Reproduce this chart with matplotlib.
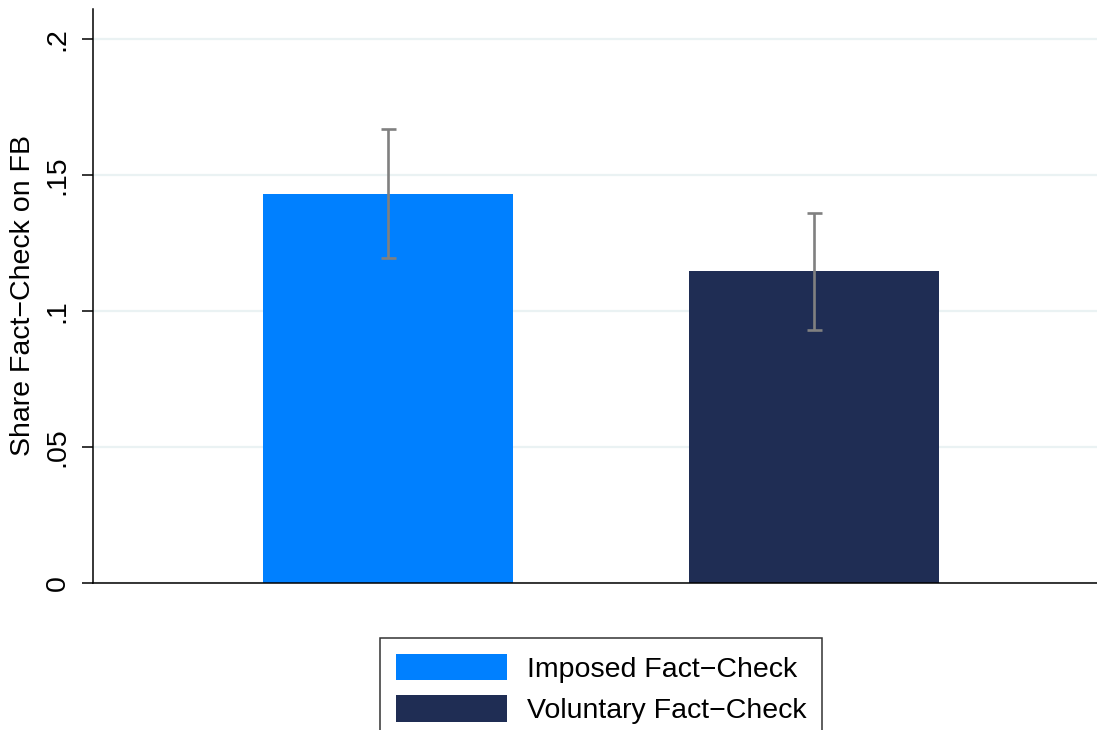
import matplotlib
matplotlib.use('Agg')
from matplotlib import pyplot as plt
from matplotlib.patches import Patch

# values
groups = ['Imposed Fact\u2212Check', 'Voluntary Fact\u2212Check']
shares = [0.1430, 0.1147]
ci_low = [0.1194, 0.0930]
ci_high = [0.1667, 0.1360]
colors = ['#0080ff', '#1f2d54']
yticks = [0, 0.05, 0.1, 0.15, 0.2]
ytick_labels = ['0', '.05', '.1', '.15', '.2']

plt.rcParams['font.family'] = ['Liberation Sans', 'DejaVu Sans']
fs = 20.5

fig = plt.figure(figsize=(10.97, 7.30), dpi=100)
ax = fig.add_axes([0.0848, 0.2014, 0.9152, 0.7863])

pos = [1, 2]
for i in range(len(groups)):
    ax.bar(pos[i], shares[i], width=0.587, color=colors[i], zorder=2)
    ax.errorbar(pos[i], shares[i],
                yerr=[[shares[i] - ci_low[i]], [ci_high[i] - shares[i]]],
                fmt='none', ecolor='#808080', elinewidth=1.9, capsize=5.4,
                capthick=1.9, zorder=3)

ax.set_xlim(0.308, 2.664)
ax.set_ylim(0, 0.211)
ax.set_yticks(yticks)
ax.set_yticklabels(ytick_labels, rotation=90, va='center', fontsize=fs)
ax.set_xticks([])
ax.grid(axis='y', color='#eaf2f3', linewidth=1.6, zorder=0)
ax.set_axisbelow(True)
ax.tick_params(axis='y', length=8, width=1.1, pad=8)
for s in ['top', 'right']:
    ax.spines[s].set_visible(False)
for s in ['left', 'bottom']:
    ax.spines[s].set_linewidth(1.1)
ax.set_ylabel('Share Fact\u2212Check on FB', fontsize=fs, labelpad=6)

handles = [Patch(facecolor=c, edgecolor='none') for c in colors]
leg = fig.legend(handles, groups, loc='upper center',
                 bbox_to_anchor=(0.548, 1 - 638 / 730), fontsize=fs,
                 frameon=True, fancybox=False, edgecolor='black',
                 handlelength=3.9, handleheight=1.05, handletextpad=0.7,
                 labelspacing=0.45, borderpad=0.55, borderaxespad=0)
leg.get_frame().set_linewidth(1.1)

fig.savefig('out.png', dpi=100)
